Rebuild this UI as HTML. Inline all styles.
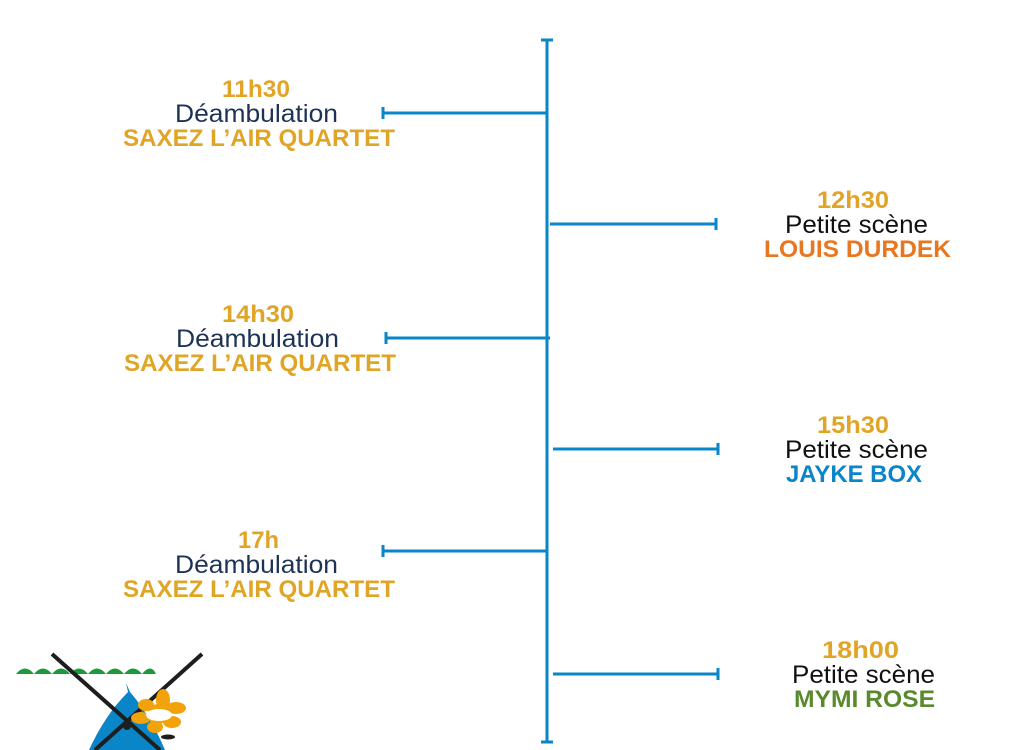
<!DOCTYPE html>
<html><head><meta charset="utf-8"><style>
html,body{margin:0;padding:0;background:#fff;}
body{width:1024px;height:750px;position:relative;overflow:hidden;font-family:"Liberation Sans",sans-serif;}
svg{position:absolute;left:0;top:0;}
.t{font-weight:bold;font-size:24px;fill:#E0A526;}
.m{font-size:25px;}
.n{font-weight:bold;font-size:24px;}
</style></head><body>
<svg width="1024" height="750" viewBox="0 0 1024 750">
<g stroke="#0a85c8" stroke-width="3" fill="none">
<line x1="547" y1="40" x2="547" y2="742"/>
<line x1="541" y1="40" x2="553" y2="40"/>
<line x1="541" y1="742" x2="553" y2="742"/>
<line x1="383" y1="113" x2="547" y2="113"/><line x1="383" y1="107" x2="383" y2="119"/>
<line x1="550" y1="224" x2="716" y2="224"/><line x1="716" y1="218" x2="716" y2="230"/>
<line x1="386" y1="338" x2="550" y2="338"/><line x1="386" y1="332" x2="386" y2="344"/>
<line x1="553" y1="449" x2="718" y2="449"/><line x1="718" y1="443" x2="718" y2="455"/>
<line x1="383" y1="551" x2="547" y2="551"/><line x1="383" y1="545" x2="383" y2="557"/>
<line x1="553" y1="674" x2="718" y2="674"/><line x1="718" y1="668" x2="718" y2="680"/>
</g>
<g>
<text class="t" x="222" y="97" textLength="68" lengthAdjust="spacingAndGlyphs">11h30</text>
<text class="m" x="175" y="122" fill="#1d3355" textLength="163" lengthAdjust="spacingAndGlyphs">Déambulation</text>
<text class="n" x="123" y="146" fill="#E0A526" textLength="272" lengthAdjust="spacingAndGlyphs">SAXEZ L’AIR QUARTET</text>

<text class="t" x="817" y="208" textLength="72" lengthAdjust="spacingAndGlyphs">12h30</text>
<text class="m" x="785" y="233" fill="#111" textLength="143" lengthAdjust="spacingAndGlyphs">Petite scène</text>
<text class="n" x="764" y="257" fill="#E87722" textLength="187" lengthAdjust="spacingAndGlyphs">LOUIS DURDEK</text>

<text class="t" x="222" y="322" textLength="72" lengthAdjust="spacingAndGlyphs">14h30</text>
<text class="m" x="176" y="347" fill="#1d3355" textLength="163" lengthAdjust="spacingAndGlyphs">Déambulation</text>
<text class="n" x="124" y="371" fill="#E0A526" textLength="272" lengthAdjust="spacingAndGlyphs">SAXEZ L’AIR QUARTET</text>

<text class="t" x="817" y="433" textLength="72" lengthAdjust="spacingAndGlyphs">15h30</text>
<text class="m" x="785" y="458" fill="#111" textLength="143" lengthAdjust="spacingAndGlyphs">Petite scène</text>
<text class="n" x="786" y="482" fill="#0a85c8" textLength="136" lengthAdjust="spacingAndGlyphs">JAYKE BOX</text>

<text class="t" x="238" y="548" textLength="41" lengthAdjust="spacingAndGlyphs">17h</text>
<text class="m" x="175" y="573" fill="#1d3355" textLength="163" lengthAdjust="spacingAndGlyphs">Déambulation</text>
<text class="n" x="123" y="597" fill="#E0A526" textLength="272" lengthAdjust="spacingAndGlyphs">SAXEZ L’AIR QUARTET</text>

<text class="t" x="822" y="658" textLength="77" lengthAdjust="spacingAndGlyphs">18h00</text>
<text class="m" x="792" y="683" fill="#111" textLength="143" lengthAdjust="spacingAndGlyphs">Petite scène</text>
<text class="n" x="794" y="707" fill="#5a8a2e" textLength="141" lengthAdjust="spacingAndGlyphs">MYMI ROSE</text>
</g>
<!-- windmill -->
<path d="M16 674 q9-11 18 0 q9-11 18 0 q9-11 18 0 q9-11 18 0 q9-11 18 0 q9-11 18 0 q9-11 18 0 q9-11 14 0 z" fill="#1a9a3a"/>
<path d="M126 683 L128 692 Q105 715 89 750 L165 750 Q150 715 130 692 Z" fill="#0a85c8"/>
<g stroke="#1e1e1e" stroke-width="4">
<line x1="52" y1="654" x2="160" y2="750"/>
<line x1="202" y1="654" x2="95" y2="750"/>
</g>
<circle cx="127" cy="726" r="4" fill="#1e1e1e"/>
<g fill="#F2A20A">
<ellipse cx="163" cy="700" rx="7" ry="11"/>
<ellipse cx="176" cy="708" rx="10" ry="6"/>
<ellipse cx="172" cy="722" rx="9" ry="6"/>
<ellipse cx="155" cy="727" rx="8" ry="6"/>
<ellipse cx="141" cy="718" rx="10" ry="6"/>
<ellipse cx="146" cy="705" rx="8" ry="6"/>
<circle cx="158" cy="714" r="10"/>
</g>
<ellipse cx="159" cy="715" rx="13" ry="6" fill="#fff"/>
<ellipse cx="168" cy="737" rx="7" ry="2.5" fill="#1e1e1e"/>
</svg>
</body></html>
